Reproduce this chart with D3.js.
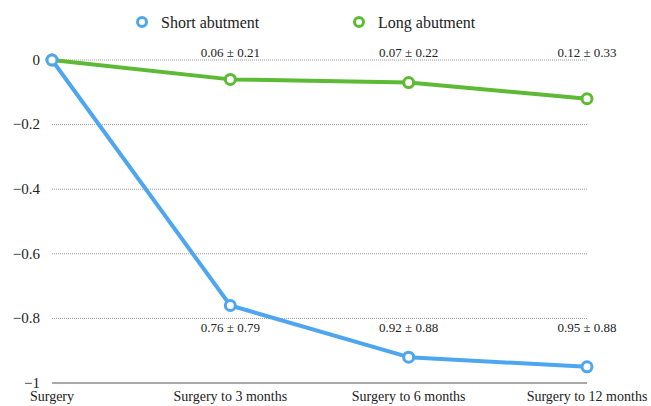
<!DOCTYPE html>
<html><head><meta charset="utf-8">
<script src="https://cdn.jsdelivr.net/npm/d3@7"></script>
<style>body{margin:0;background:#fff}svg{display:block}text{font-family:"Liberation Serif","Times New Roman",serif;fill:#222}</style>
</head><body><svg id="c" width="651" height="406"></svg>
<script>
const categories = ["Surgery","Surgery to 3 months","Surgery to 6 months","Surgery to 12 months"];
const shortValues = [0, -0.76, -0.92, -0.95];
const longValues = [0, -0.06, -0.07, -0.12];
const shortLabels = ["", "0.76 ± 0.79", "0.92 ± 0.88", "0.95 ± 0.88"];
const longLabels = ["", "0.06 ± 0.21", "0.07 ± 0.22", "0.12 ± 0.33"];
const yTicks = [0, -0.2, -0.4, -0.6, -0.8, -1];
const seriesNames = ["Short abutment","Long abutment"];
const colors = ["#4ea6ee","#5cba35"];

const svg = d3.select("#c");
const x = d3.scalePoint().domain(categories).range([52, 587]);
const y = d3.scaleLinear().domain([-1, 0]).range([383, 60]);
const fmt = v => v === 0 ? "0" : v === -1 ? "−1" : d3.format(".1f")(v);

// grid
svg.append("g").selectAll("line").data(yTicks.filter(t => t !== -1)).join("line")
  .attr("x1", 52).attr("x2", 587).attr("y1", d => y(d)).attr("y2", d => y(d))
  .attr("stroke", "#999").attr("stroke-width", 1).attr("stroke-dasharray", "1,1");
// axis baseline
svg.append("line").attr("x1", 52).attr("x2", 587).attr("y1", y(-1)).attr("y2", y(-1))
  .attr("stroke", "#555").attr("stroke-width", 1);
// y labels
svg.append("g").selectAll("text").data(yTicks).join("text")
  .attr("x", 40).attr("y", d => y(d)).attr("dy", "0.32em").attr("text-anchor", "end")
  .attr("font-size", 15).text(fmt);
// x labels
svg.append("g").selectAll("text").data(categories).join("text")
  .attr("x", d => x(d)).attr("y", 401).attr("text-anchor", "middle")
  .attr("font-size", 14).text(d => d);

const line = d3.line().x((d, i) => x(categories[i])).y(d => y(d));
const series = [longValues, shortValues];
const scol = [colors[1], colors[0]];
series.forEach((vals, k) => {
  svg.append("path").datum(vals).attr("d", line).attr("fill", "none")
    .attr("stroke", scol[k]).attr("stroke-width", 4).attr("stroke-linejoin", "round");
});
series.forEach((vals, k) => {
  svg.append("g").selectAll("circle").data(vals).join("circle")
    .attr("cx", (d, i) => x(categories[i])).attr("cy", d => y(d)).attr("r", 5)
    .attr("fill", "#fff").attr("stroke", scol[k]).attr("stroke-width", 3);
});
// value labels
svg.append("g").selectAll("text").data(longLabels).join("text")
  .attr("x", (d, i) => x(categories[i])).attr("y", 57).attr("text-anchor", "middle")
  .attr("font-size", 13).text(d => d);
svg.append("g").selectAll("text").data(shortLabels).join("text")
  .attr("x", (d, i) => x(categories[i])).attr("y", 332).attr("text-anchor", "middle")
  .attr("font-size", 13).text(d => d);

// legend
const legX = [142, 359];
seriesNames.forEach((n, k) => {
  svg.append("circle").attr("cx", legX[k]).attr("cy", 22).attr("r", 4.5)
    .attr("fill", "#fff").attr("stroke", colors[k]).attr("stroke-width", 3);
  svg.append("text").attr("x", legX[k] + 19).attr("y", 22).attr("dy", "0.35em")
    .attr("font-size", 16).text(n);
});
</script></body></html>
